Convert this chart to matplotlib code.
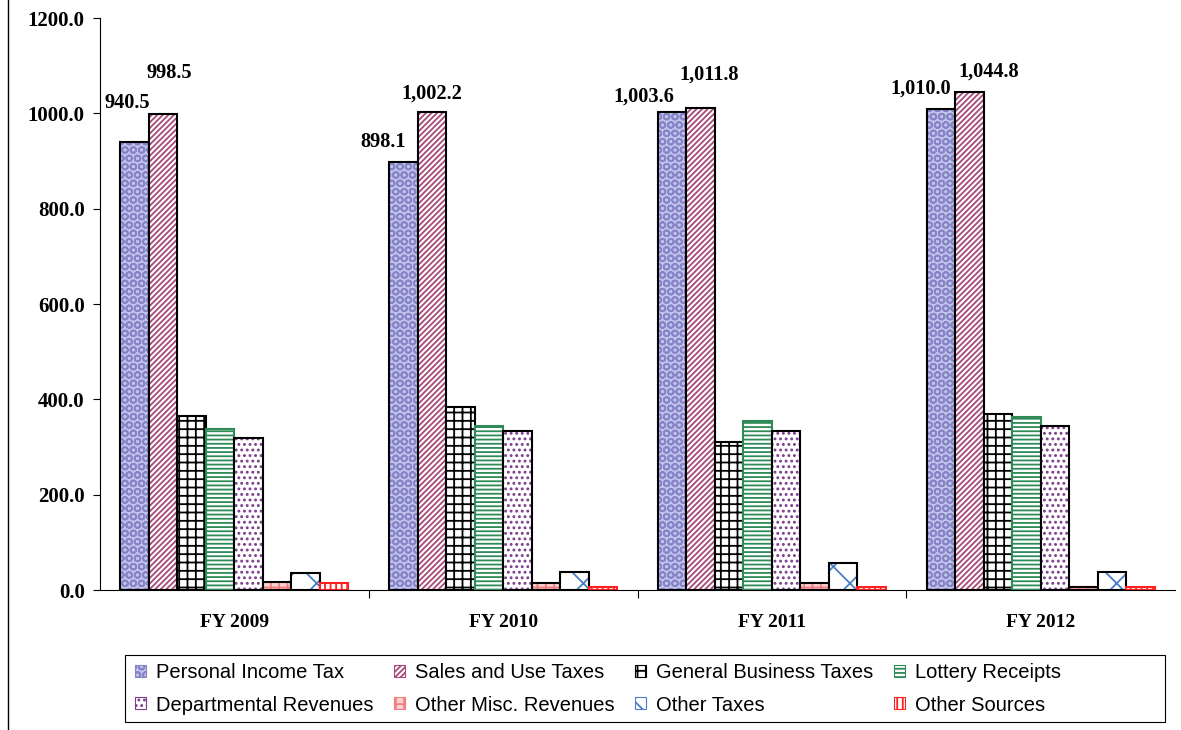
import numpy as np
import matplotlib.pyplot as plt
from matplotlib.lines import Line2D
from matplotlib.patches import Rectangle

years = ['FY 2009', 'FY 2010', 'FY 2011', 'FY 2012']
series = ['Personal Income Tax', 'Sales and Use Taxes', 'General Business Taxes',
          'Lottery Receipts', 'Departmental Revenues', 'Other Misc. Revenues',
          'Other Taxes', 'Other Sources']

personal_income = [940.5, 898.1, 1003.6, 1010.0]
sales_use = [998.5, 1002.2, 1011.8, 1044.8]
general_business = [366, 384, 311, 370]
lottery = [338, 344, 355, 362]
departmental = [318, 334, 334, 345]
other_misc = [16, 14, 14, 6]
other_taxes = [36, 37, 57, 38]
other_sources = [14, 7, 7, 7]

data = [personal_income, sales_use, general_business, lottery,
        departmental, other_misc, other_taxes, other_sources]

# (facecolor, hatch, hatch colour, outline colour)
styles = [
    ('#c4c4ec', 'OO', '#8585c8', 'black'),
    ('white', '//////', '#a84a78', 'black'),
    ('white', '++', 'black', 'black'),
    ('white', '----', '#2e8b57', '#2e8b57'),
    ('white', '...', '#7a3d8a', 'black'),
    ('#fbd0d0', '++', '#f08080', 'black'),
    ('white', 'x', '#4a7fc8', 'black'),
    ('white', '|||', '#ff2020', '#ff2020'),
]

# label offsets in pixels (dx, dy) for the two big series
pit_offsets = [(-7, 39), (-20, 20), (-28, 15), (-20, 20)]
sales_offsets = [(6, 41), (0, 19), (8, 33), (19, 20)]

plt.rcParams['hatch.linewidth'] = 1.3
fig = plt.figure(figsize=(11.81, 7.30), dpi=100)
ax = fig.add_axes([100 / 1181, 1 - 590 / 730, 1075 / 1181, 572 / 730])

x = np.arange(len(years))
w = 0.106
handles = []
for i, vals in enumerate(data):
    fc, hatch, hc, ec = styles[i]
    pos = x + (i - 3.5) * w
    plt.rcParams['hatch.color'] = hc
    ax.bar(pos, vals, w, color=fc, hatch=hatch, edgecolor=hc, linewidth=0)
    ax.bar(pos, vals, w, fill=False, edgecolor=ec, linewidth=1.5)
    h = ax.bar([np.nan], [np.nan], color=fc, hatch=hatch, edgecolor=hc, linewidth=0.8)
    handles.append(h)

for j in range(len(years)):
    for vals, offs, k in ((personal_income, pit_offsets, 0), (sales_use, sales_offsets, 1)):
        v = vals[j]
        dx, dy = offs[j]
        ax.annotate('{:,.1f}'.format(v), (x[j] + (k - 3.5) * w, v), xytext=(dx, dy),
                    textcoords='offset pixels', ha='center', va='center',
                    fontsize=14.7, fontweight='bold', family='Liberation Serif',
                    zorder=5)

ax.set_xlim(-0.5, 3.5)
ax.set_ylim(0, 1200)
ax.set_yticks(np.arange(0, 1201, 200))
ax.set_yticklabels(['%.1f' % t for t in np.arange(0, 1201, 200)],
                   fontsize=15, fontweight='bold', family='Liberation Serif')
ax.set_xticks([0.5, 1.5, 2.5])
ax.set_xticklabels([])
ax.set_xticks(x, minor=True)
ax.set_xticklabels(years, minor=True, fontsize=14, fontweight='bold',
                   family='Liberation Serif')
ax.tick_params(axis='x', which='minor', length=0, pad=17)
ax.tick_params(axis='x', which='major', length=6, direction='out')
ax.tick_params(axis='y', length=5, direction='out', pad=6)
ax.spines['top'].set_visible(False)
ax.spines['right'].set_visible(False)

# legend without frame, the box is drawn separately (it is wider than the entries)
order = [0, 4, 1, 5, 2, 6, 3, 7]
leg = fig.legend([handles[k] for k in order], [series[k] for k in order],
                 ncol=4, loc='center', bbox_to_anchor=(598 / 1181, 1 - 689 / 730),
                 prop={'family': 'Liberation Sans', 'size': 14.5},
                 handlelength=0.55, handleheight=0.55, handletextpad=0.5,
                 columnspacing=1.0, labelspacing=0.65, frameon=False,
                 borderpad=0.35)
fig.add_artist(Rectangle((125 / 1181, 1 - 722 / 730), 1040 / 1181, 67 / 730,
                         transform=fig.transFigure, fill=False,
                         edgecolor='black', linewidth=0.8))

fig.add_artist(Line2D([8 / 1181, 8 / 1181], [0, 1], color='black', linewidth=1))

fig.savefig('out.png', dpi=100)
